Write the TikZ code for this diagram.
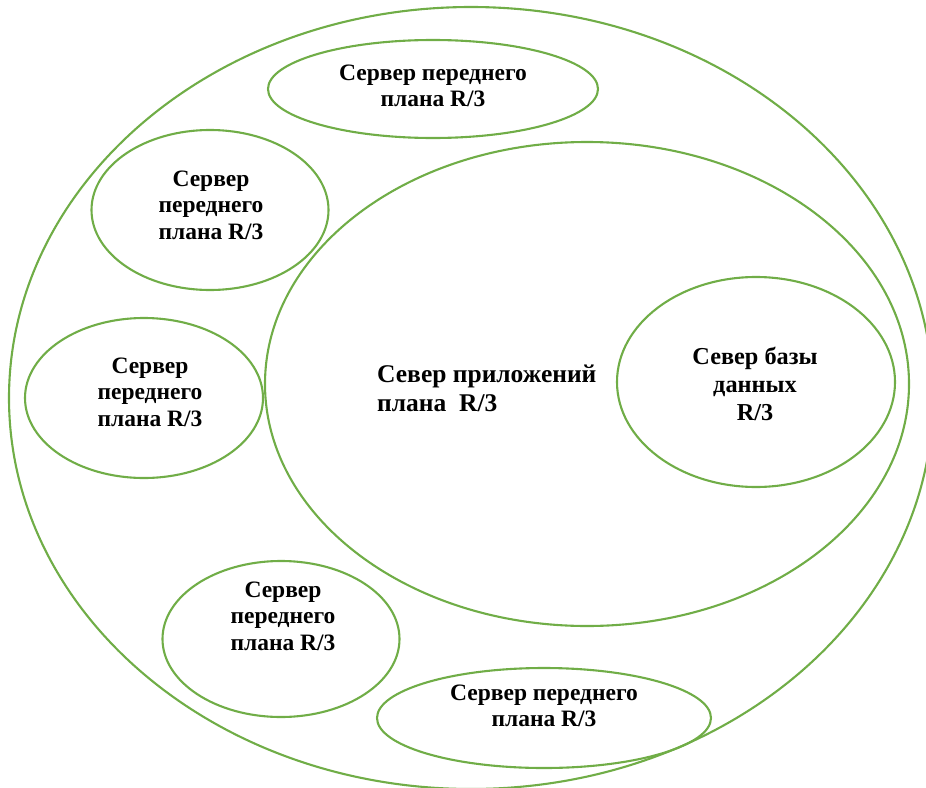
\documentclass[tikz,border=0pt]{standalone}
\usepackage{fontspec}
\setmainfont{Liberation Serif}
\usepackage{xcolor}
\usepackage{tikz}
\usetikzlibrary{positioning}
\usetikzlibrary{shapes.geometric}

\definecolor{srvgreen}{RGB}{112,173,71}

\tikzset{
	srv/.style={draw=srvgreen, line width=2.1pt, ellipse, inner sep=0pt},
	lbl/.style={font=\fontsize{23.5}{26.5}\selectfont\bfseries, align=center, inner sep=0pt},
}

\begin{document}
\begin{tikzpicture}[x=1pt, y=-1pt]
	
	% fixed frame: same size as the reference
	\useasboundingbox (0,0) rectangle (926,787);
	
	% Outer ring, the whole cluster
	\node[srv, minimum width=924pt, minimum height=782pt] (Cluster) at (471,398) {};
	
	%%%%%%%%%%%%%%%%%%%%%%%%%%%%%%%%%%%%%%%%%%%%%%%%%%%%%%%%%%%%%%
	% Application server with the database inside
	\node[srv, minimum width=644pt, minimum height=484pt] (App) at (587,384) {};
	\node[srv, minimum width=278pt, minimum height=210pt] (DB) at (756,382) {};
	
	\node[lbl, align=left, anchor=west, font=\fontsize{25.5}{29}\selectfont\bfseries]
		(AppText) at (377,388) {Север приложений\\плана\ \ R/3};
	\node[lbl, font=\fontsize{24.3}{28}\selectfont\bfseries]
		(DBText) at (755,384) {Север базы\\данных\\R/3};
	
	%%%%%%%%%%%%%%%%%%%%%%%%%%%%%%%%%%%%%%%%%%%%%%%%%%%%%%%%%%%%%%
	% Front-end servers, clockwise from the top
	\node[srv, minimum width=330pt, minimum height=98pt] (F1) at (433,89) {};
	\node[srv, minimum width=237pt, minimum height=160pt] (F2) at (210,210) {};
	\node[srv, minimum width=238pt, minimum height=160pt] (F3) at (144,398) {};
	\node[srv, minimum width=237pt, minimum height=156pt] (F4) at (281,639) {};
	\node[srv, minimum width=334pt, minimum height=100pt] (F5) at (544,718) {};
	
	\node[lbl] (F1Text) at (433,86) {Сервер переднего\\плана R/3};
	\node[lbl] (F2Text) at (211,205) {Сервер\\переднего\\плана R/3};
	\node[lbl] (F3Text) at (150,392) {Сервер\\переднего\\плана R/3};
	\node[lbl] (F4Text) at (283,616) {Сервер\\переднего\\плана R/3};
	\node[lbl] (F5Text) at (544,706) {Сервер переднего\\плана R/3};
	
\end{tikzpicture}
\end{document}
